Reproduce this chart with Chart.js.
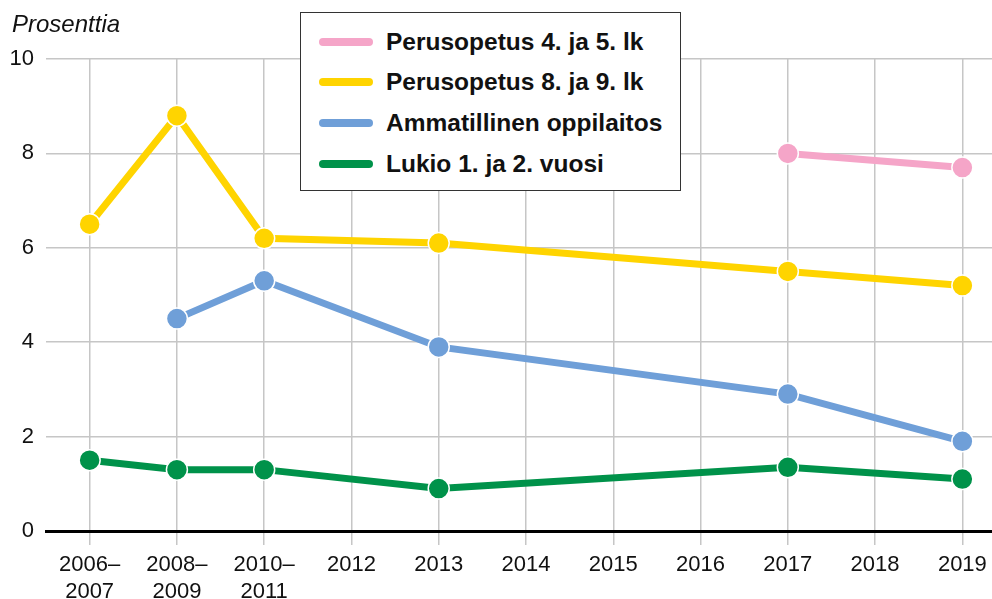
<!DOCTYPE html>
<html>
<head>
<meta charset="utf-8">
<script src="https://cdn.jsdelivr.net/npm/chart.js@4/dist/chart.umd.min.js"></script>
<style>
  html, body { margin: 0; padding: 0; background: #fff; overflow: hidden; }
  #wrap { position: relative; width: 992px; height: 599px; overflow: hidden; }
  #chart { display: block; width: 1018px; height: 599px; }
  #unit {
    position: absolute; left: 12px; top: 10px;
    font: italic 24px "Liberation Sans", Arial, sans-serif; color: #111;
  }
  #legend {
    position: absolute; left: 300px; top: 12px; width: 379px; height: 177px;
    border: 1.5px solid #333; background: #fff; box-sizing: content-box;
  }
  .row {
    position: absolute; left: 18px; height: 30px; display: flex; align-items: center;
    font: bold 24.5px "Liberation Sans", Arial, sans-serif; color: #111; white-space: nowrap;
  }
  .sw { width: 54px; height: 8px; border-radius: 4px; margin-right: 13px; }
</style>
</head>
<body>
<div id="wrap">
  <canvas id="chart" width="1018" height="599"></canvas>
  <div id="unit">Prosenttia</div>
  <div id="legend"></div>
</div>
<script>
// x-akselin luokat (kaksirivinen nimike listana)
const categories = [
  ['2006–', '2007'], ['2008–', '2009'], ['2010–', '2011'],
  '2012', '2013', '2014', '2015', '2016', '2017', '2018', '2019'
];

// prosenttiosuudet, null = ei mittausta
const perusopetus45 = [null, null, null, null, null, null, null, null, 8.0, null, 7.7];
const perusopetus89 = [6.5, 8.8, 6.2, null, 6.1, null, null, null, 5.5, null, 5.2];
const ammatillinen  = [null, 4.5, 5.3, null, 3.9, null, null, null, 2.9, null, 1.9];
const lukio         = [1.5, 1.3, 1.3, null, 0.9, null, null, null, 1.35, null, 1.1];

const seriesNames = [
  'Perusopetus 4. ja 5. lk',
  'Perusopetus 8. ja 9. lk',
  'Ammatillinen oppilaitos',
  'Lukio 1. ja 2. vuosi'
];
const seriesColors = ['#F5A5C8', '#FFD400', '#6F9FD8', '#00924A'];
const seriesData = [perusopetus45, perusopetus89, ammatillinen, lukio];

const yTicks = [0, 2, 4, 6, 8, 10];

const TICK_FONT = { family: '"Liberation Sans", Arial, sans-serif', size: 22, lineHeight: 1.24 };
const GRID = '#c6c6c6';

function makeDataset(i) {
  return {
    label: seriesNames[i],
    data: seriesData[i],
    borderColor: seriesColors[i],
    backgroundColor: seriesColors[i],
    borderWidth: 7,
    pointRadius: 10.5,
    pointHoverRadius: 10.5,
    pointBackgroundColor: seriesColors[i],
    pointBorderColor: '#fff',
    pointBorderWidth: 1.5,
    tension: 0,
    spanGaps: true,
    fill: false
  };
}

const chart = new Chart(document.getElementById('chart'), {
  type: 'line',
  data: {
    labels: categories,
    datasets: seriesData.map((_, i) => makeDataset(i))
  },
  options: {
    responsive: false,
    animation: false,
    layout: { padding: { top: 59, left: 0, right: 0, bottom: 0 } },
    plugins: {
      legend: { display: false },
      tooltip: { enabled: false }
    },
    scales: {
      x: {
        offset: true,
        afterFit: s => { s.height = 68; },
        grid: {
          offset: false,
          color: GRID,
          lineWidth: 1.5,
          tickLength: 14,
          tickColor: GRID
        },
        border: { display: true, color: '#000', width: 3 },
        ticks: {
          color: '#111',
          font: TICK_FONT,
          padding: 6,
          autoSkip: false,
          maxRotation: 0
        }
      },
      y: {
        min: 0,
        max: 10,
        afterFit: s => { s.width = 46; },
        afterBuildTicks: s => { s.ticks = yTicks.map(v => ({ value: v })); },
        grid: {
          color: ctx => (ctx.tick && ctx.tick.value === 0 ? 'rgba(0,0,0,0)' : GRID),
          lineWidth: 1.5,
          drawTicks: false
        },
        border: { display: false },
        ticks: {
          color: '#111',
          font: TICK_FONT,
          padding: 12
        }
      }
    }
  }
});

// selite laatikkoon kaavion päälle
const legendEl = document.getElementById('legend');
const rowTops = [14, 54, 95, 136];
seriesNames.forEach((name, i) => {
  const row = document.createElement('div');
  row.className = 'row';
  row.style.top = rowTops[i] + 'px';
  row.innerHTML = '<span class="sw" style="background:' + seriesColors[i] + '"></span>' + name;
  legendEl.appendChild(row);
});
</script>
</body>
</html>
